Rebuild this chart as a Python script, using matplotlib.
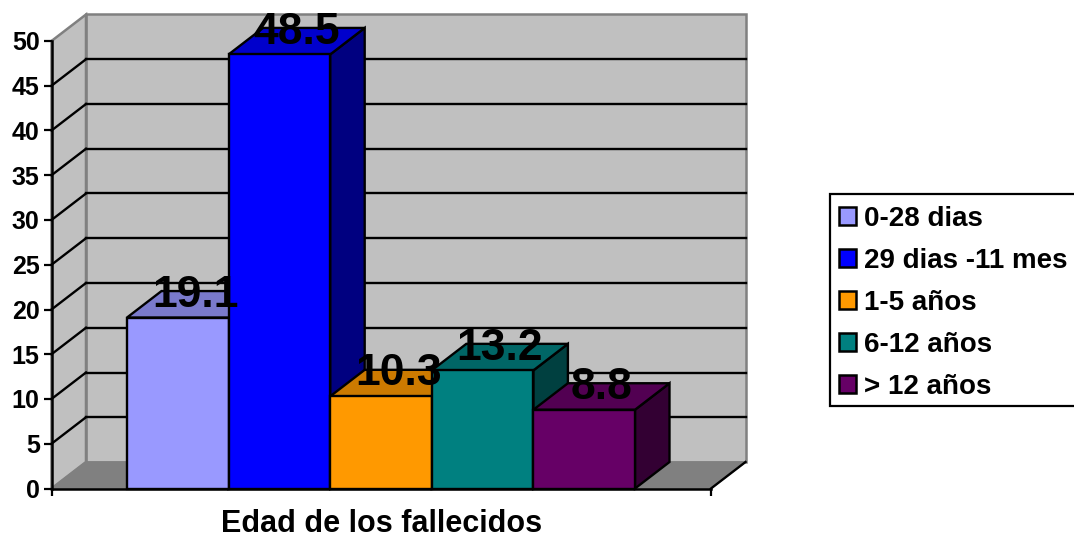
import matplotlib
matplotlib.use('Agg')
import matplotlib.pyplot as plt
from matplotlib.patches import Patch, Polygon, Rectangle

plt.rcParams['font.family'] = ['Liberation Sans', 'DejaVu Sans']
plt.rcParams['font.weight'] = 'bold'

# Datos
categorias = ['0-28 dias', '29 dias -11 mes', '1-5 años', '6-12 años', '> 12 años']
valores = [19.1, 48.5, 10.3, 13.2, 8.8]
etiquetas = ['19.1', '48.5', '10.3', '13.2', '8.8']
frente = ['#9999FF', '#0000FF', '#FF9900', '#008080', '#660066']
arriba = ['#7A7ACC', '#0000CC', '#CC7A00', '#006666', '#520052']
lado = ['#4D4D80', '#000080', '#804D00', '#004040', '#330033']
ticks_y = [0, 5, 10, 15, 20, 25, 30, 35, 40, 45, 50]

W, H = 1074, 535
fig = plt.figure(figsize=(W / 100, H / 100), dpi=100)

# el plano frontal del grafico, en pixeles
x0, x1, y0, y1 = 51.5, 711, 488.5, 41
ax = fig.add_axes([x0 / W, (H - y0) / H, (x1 - x0) / W, (y0 - y1) / H])
ancho_px = 101.6
ax.set_xlim(0, (x1 - x0) / ancho_px)
ax.set_ylim(0, 50)

# profundidad en unidades de datos
dx = 34.5 / ancho_px
dy = 26.5 / ((y0 - y1) / 50)
xmax = (x1 - x0) / ancho_px
inicio = (127 - x0) / ancho_px

gris = '#C0C0C0'
oscuro = '#808080'
lw = 1.7


def poly(puntos, color, edge='black', z=1, lw=lw):
    ax.add_patch(Polygon(puntos, closed=True, facecolor=color, edgecolor=edge,
                         linewidth=lw, clip_on=False, zorder=z, joinstyle='miter'))


# paredes y piso
poly([(dx, dy), (xmax + dx, dy), (xmax + dx, 50 + dy), (dx, 50 + dy)], gris, oscuro, 1, 1.8)
poly([(0, 0), (dx, dy), (dx, 50 + dy), (0, 50)], gris, oscuro, 1, 1.8)
poly([(0, 0), (xmax, 0), (xmax + dx, dy), (dx, dy)], oscuro, oscuro, 1, 1)
ax.plot([xmax, xmax + dx], [0, dy], color='black', lw=lw, clip_on=False, zorder=1.5)

# lineas de la reticula
for t in ticks_y[1:-1]:
    ax.plot([dx, xmax + dx], [t + dy, t + dy], color='black', lw=lw, clip_on=False, zorder=2)
    ax.plot([0, dx], [t, t + dy], color='black', lw=lw, clip_on=False, zorder=2)

# barras
for i, v in enumerate(valores):
    a = inicio + i
    b = a + 1
    z = 3 + i
    poly([(b, 0), (b + dx, dy), (b + dx, v + dy), (b, v)], lado[i], z=z)
    poly([(a, v), (b, v), (b + dx, v + dy), (a + dx, v + dy)], arriba[i], z=z)
    ax.bar(a, v, width=1, align='edge', color=frente[i], edgecolor='black',
           linewidth=lw, zorder=z + 0.5, clip_on=False)

for i, v in enumerate(valores):
    ax.annotate(etiquetas[i], (inicio + i + 0.5 + dx / 2, v + dy), xytext=(0, -3),
                textcoords='offset points', ha='center', va='center', annotation_clip=False,
                fontsize=32, fontweight='bold', color='black', zorder=20)

# ejes
for s in ['top', 'right']:
    ax.spines[s].set_visible(False)
for s in ['left', 'bottom']:
    ax.spines[s].set_linewidth(1.8)
    ax.spines[s].set_zorder(15)
ax.patch.set_visible(False)
ax.set_yticks(ticks_y)
ax.set_xticks([0, xmax])
ax.set_xticklabels([])
ax.tick_params(axis='y', length=6, width=1.6, labelsize=18, pad=2.5)
ax.tick_params(axis='x', direction='out', length=5, width=1.6)
ax.set_xlabel('Edad de los fallecidos', fontsize=22, fontweight='bold', labelpad=6.5)

# leyenda: el marco se sale por la derecha, igual que en la imagen original
marco = Rectangle((829.5 / W, (H - 405.5) / H), 260 / W, 211.5 / H, transform=fig.transFigure,
                  facecolor='white', edgecolor='black', linewidth=1.6, zorder=1)
fig.add_artist(marco)
handles = [Patch(facecolor=c, edgecolor='black', linewidth=1.8) for c in frente]
leg = fig.legend(handles, categorias, loc='upper left', bbox_to_anchor=(839 / W, (H - 206) / H),
                 fontsize=20, frameon=False,
                 handlelength=0.62, handleheight=0.62, handletextpad=0.27, labelspacing=0.575,
                 borderpad=0, borderaxespad=0)

fig.savefig('out.png', dpi=100)
